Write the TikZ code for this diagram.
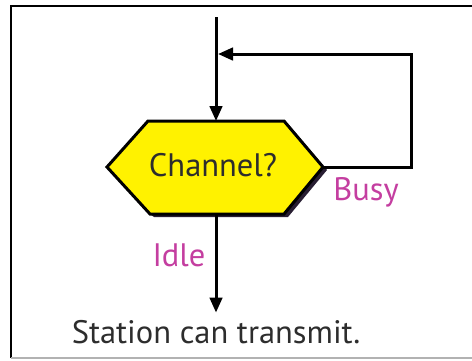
\documentclass[tikz,border=0pt]{standalone}
\usepackage{fontspec}
\setmainfont{PT Sans}
\usetikzlibrary{arrows.meta,calc}
\definecolor{hexyellow}{RGB}{255,242,0}
\definecolor{labelpink}{RGB}{196,62,160}
\definecolor{shadowgray}{RGB}{40,30,50}
\definecolor{textgray}{RGB}{45,45,45}
\tikzset{every path/.style={line width=1.8pt},
  arr/.style={-{Triangle[length=9pt,width=7.5pt]}},
  lbl/.style={font=\fontsize{19.5}{22}\selectfont, inner sep=0pt, text=textgray},
  pinklbl/.style={lbl, text=labelpink}}

\begin{document}
\begin{tikzpicture}[x=0.6pt,y=-0.6pt]
    \useasboundingbox (0,0) rectangle (472,360);
    % frame
    \draw[line width=1.2pt] (11,358) -- (11,6) -- (473,6);
    \draw[line width=1pt, black!30] (11,358) -- (473,358);

    % hexagon corners
    \coordinate (hw) at (107,167);
    \coordinate (hnw) at (148,121);
    \coordinate (hn) at (216,121);
    \coordinate (hne) at (284,121);
    \coordinate (he) at (323,167);
    \coordinate (hse) at (284,214);
    \coordinate (hs) at (216,214);
    \coordinate (hsw) at (150,214);

    \fill[shadowgray] ($(hne)+(4,3)$) -- ($(he)+(4,3)$) -- ($(hse)+(4,3)$)
      -- ($(hsw)+(4,3)$) -- (hsw) -- (hse) -- (he) -- cycle;
    \draw[fill=hexyellow] (hw) -- (hnw) -- (hne) -- (he) -- (hse) -- (hsw) -- cycle;
    \node[lbl] (chan) at (213,165) {Channel?};

    % flow
    \coordinate (start) at (216,17);
    \coordinate (loopR) at (411,167);
    \coordinate (join) at (218,54);
    \node[lbl, anchor=base] (stn) at (216,343) {Station can transmit.};

    \draw[arr] (start) -- (hn);
    \draw[arr] (he) -- (loopR) |- (join);
    \draw[arr] (hs) -- ([yshift=3.5pt]stn.north);

    \node[pinklbl] (busy) at (366,192) {Busy};
    \node[pinklbl] (idle) at (179,255) {Idle};
\end{tikzpicture}
\end{document}
